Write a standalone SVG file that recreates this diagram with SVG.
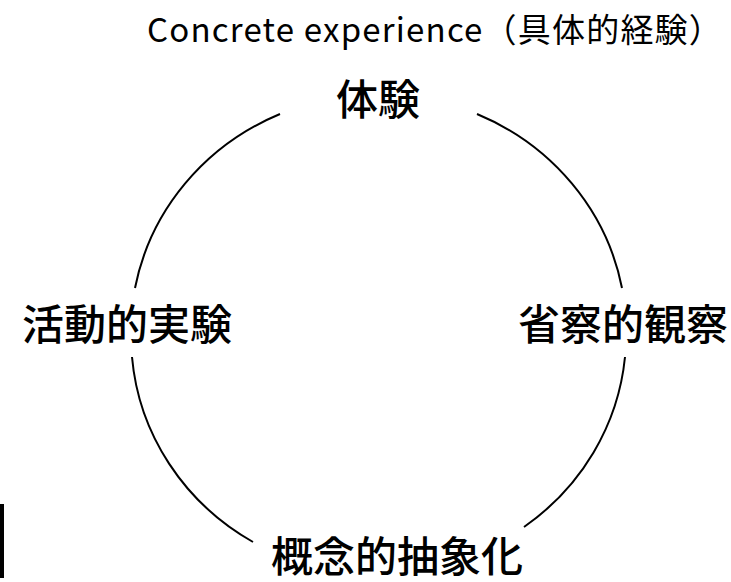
<svg xmlns="http://www.w3.org/2000/svg" width="731" height="582" viewBox="0 0 731 582">
  <style>
    .lbl { font-family: "Noto Sans CJK JP", "Noto Sans", sans-serif; font-size: 42px; font-weight: 500; fill: #000; text-anchor: middle; }
    .cap { font-family: "Noto Sans CJK JP", "Noto Sans", sans-serif; font-size: 33px; font-weight: 400; letter-spacing: 1.2px; fill: #000; }
    .arc { fill: none; stroke: #000; stroke-width: 2; }
  </style>
  <rect width="731" height="582" fill="#fff"/>
  <g id="connectors">
    <path class="arc" d="M280,114 A248,238 0 0 0 135,288"/>
    <path class="arc" d="M477,114 A248,238 0 0 1 622,288"/>
    <path class="arc" d="M625,357 A248,238 0 0 1 524,527"/>
    <path class="arc" d="M132,357 A248,238 0 0 0 253,542"/>
  </g>
  <g id="caption">
    <text class="cap" x="147" y="42">Concrete experience（具体的経験）</text>
  </g>
  <g id="node-experience">
    <text class="lbl" x="378" y="115">体験</text>
  </g>
  <g id="node-reflection">
    <text class="lbl" x="623" y="340">省察的観察</text>
  </g>
  <g id="node-abstraction">
    <text class="lbl" x="397" y="572">概念的抽象化</text>
  </g>
  <g id="node-experiment">
    <text class="lbl" x="127" y="340">活動的実験</text>
  </g>
  <rect id="bar" x="0" y="504" width="4" height="74" fill="#000"/>
</svg>
